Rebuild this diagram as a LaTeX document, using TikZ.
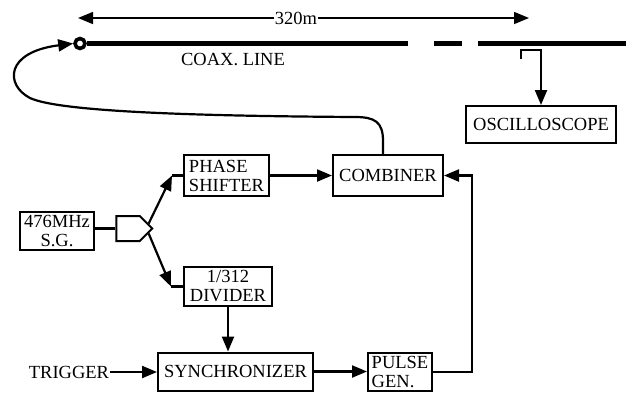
\documentclass[tikz,border=0pt]{standalone}
\usepackage{fontspec}
\setmainfont{Liberation Serif}
\usepackage{tikz}
\usetikzlibrary{arrows.meta,positioning,shapes.symbols}
\definecolor{dgedge}{RGB}{0,0,0}
\newcommand{\dgfont}{\fontsize{18.5}{19}\selectfont}
\tikzset{
  dgbox/.style={
    draw=dgedge, line width=2pt, inner sep=0pt,
    align=center, font=\dgfont
  },
  splitbox/.style={
    draw=dgedge, line width=2pt, signal, signal to=east,
    inner sep=0pt, minimum width=36pt, minimum height=25pt
  },
  arr/.style={-{Triangle[length=15pt,width=12pt]}, draw=dgedge, line width=2.2pt},
  dimarr/.style={arr, line width=1.5pt},
  wire/.style={draw=dgedge, line width=2.2pt},
  coax/.style={draw=dgedge, line width=5pt},
  lbl/.style={font=\dgfont, inner sep=1pt},
  every picture/.append style={line join=miter}
}

\begin{document}
\begin{tikzpicture}[x=1pt,y=-1pt]
  \useasboundingbox (0,0) rectangle (634,392);
  % coax line with its length
  \node[circle, draw=dgedge, line width=3.6pt, fill=white, minimum size=10pt, inner sep=0pt] (coaxend) at (80,43.5) {};
  \draw[coax] (coaxend.east) -- (408,43.5);
  \draw[coax] (434,43.5) -- (462,43.5);
  \draw[coax] (478,43.5) -- (626,43.5);
  \node[lbl] (coaxlbl) at (233,60) {COAX. LINE};
  \node[lbl, fill=white] (len) at (296,18) {320m};
  \coordinate (lenl) at (78,18);
  \coordinate (lenr) at (529,18);
  \draw[dimarr] (len) -- (lenl);
  \draw[dimarr] (len) -- (lenr);

  % blocks
  \node[dgbox, minimum width=74pt, minimum height=38pt] (sg) at (57,231) {476MHz\\S.G.};
  \node[splitbox] (split) at (128,228.5) {};
  \node[dgbox, minimum width=85pt, minimum height=41pt, align=left] (phase) at (226.5,175.5) {PHASE\\SHIFTER};
  \node[dgbox, minimum width=88pt, minimum height=39pt] (divider) at (228,286.5) {1/312\\DIVIDER};
  \node[dgbox, minimum width=110pt, minimum height=41pt] (combiner) at (388,175.5) {COMBINER};
  \node[dgbox, minimum width=155pt, minimum height=38pt] (sync) at (235.5,371.5) {SYNCHRONIZER};
  \node[dgbox, minimum width=64pt, minimum height=38pt, align=left] (pulse) at (400,372) {PULSE\\GEN.};
  \node[dgbox, minimum width=150pt, minimum height=37pt] (scope) at (541,124.5) {OSCILLOSCOPE};
  \node[lbl] (trig) at (69,372) {TRIGGER};

  % connections
  \coordinate (bendup) at (172,175.5);
  \coordinate (benddn) at (171,286.5);
  \coordinate (tap) at (521,59);
  \draw[wire] (split.west -| sg.east) -- (split.west);
  \draw[arr] ([shift={(-5pt,5pt)}]split.east) -- (bendup);
  \draw[wire] (bendup) -- (phase.west);
  \draw[arr] ([shift={(-5pt,-5pt)}]split.east) -- (benddn);
  \draw[wire] (benddn) -- (divider.west);
  \draw[arr] (phase.east) -- (combiner.west);
  \draw[arr] (divider.south) -- (divider.south |- sync.north);
  \draw[arr] (trig.east) -- (trig.east -| sync.west);
  \draw[arr] (sync.east) -- (sync.east -| pulse.west);
  \draw[arr] (pulse.east) -- ++(39,0) |- (combiner.east);
  \draw[arr] (tap) -- ++(0,-9) -| (scope.north);
  \draw[arr] ([xshift=-5pt]combiner.north) -- ++(0,-13)
    .. controls (383,122) and (375,117) .. (355,117)
    .. controls (200,116) and (60,112) .. (30,98)
    .. controls (5,85) and (5,52) .. (coaxend.west);
\end{tikzpicture}
\end{document}
